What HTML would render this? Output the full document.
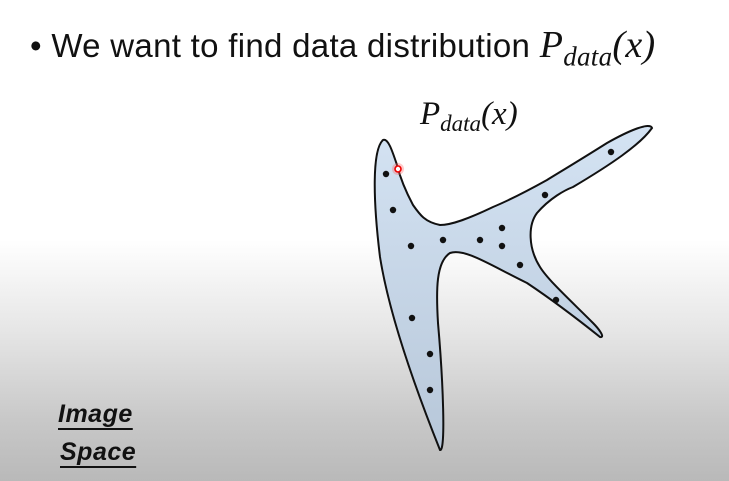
<!DOCTYPE html>
<html><head><meta charset="utf-8"><style>
body{margin:0;width:729px;height:481px;overflow:hidden;font-family:"Liberation Sans",sans-serif;
background:linear-gradient(to bottom,#fff 0,#fff 240px,#e6e6e6 330px,#c8c8c8 420px,#b9b9b9 481px);position:relative}
.t{position:absolute;left:30px;top:23px;font-size:33px;color:#111;white-space:nowrap;letter-spacing:0.3px}
.m{font-family:"Liberation Serif",serif;font-style:italic;font-size:38px}
.lab{position:absolute;font-weight:bold;font-style:italic;font-size:25px;color:#111;text-decoration:underline;text-decoration-thickness:2px;text-underline-offset:6px;letter-spacing:0.5px}
</style></head><body>
<div class="t">• We want to find data distribution <span class="m">P<sub style="font-size:27px">data</sub>(x)</span></div>
<svg width="729" height="481" style="position:absolute;left:0;top:0">
<defs><linearGradient id="g" x1="0" y1="0" x2="0" y2="1"><stop offset="0" stop-color="#d4e3f3"/><stop offset="1" stop-color="#b7c7d9"/></linearGradient></defs>
<text x="420" y="124" font-family="Liberation Serif,serif" font-style="italic" font-size="33" fill="#111">P<tspan font-size="23" dy="7">data</tspan><tspan dy="-7">(x)</tspan></text>
<path fill="url(#g)" stroke="#111" stroke-width="2"
d="M383,140 C372,150 373,200 380,257 C390,320 420,400 440,450 C446,452 443,380 438,323 C436,290 436,262 450,253 C465,248 490,265 527,283 C560,305 585,325 600,337 C606,338 598,328 593,323 C570,300 548,280 540,267 C528,248 528,225 537,213 C550,198 565,190 573,187 C610,165 640,145 652,128 C650,122 630,130 607,143 C580,160 560,172 547,180 C520,195 505,202 493,207 C470,218 452,225 440,225 C425,222 420,215 413,205 C405,190 400,177 397,165 C392,150 388,138 383,140 Z"/>
<g fill="#111">
<circle cx="386" cy="174" r="3.2"/><circle cx="393" cy="210" r="3.2"/><circle cx="411" cy="246" r="3.2"/>
<circle cx="443" cy="240" r="3.2"/><circle cx="480" cy="240" r="3.2"/><circle cx="502" cy="228" r="3.2"/>
<circle cx="502" cy="246" r="3.2"/><circle cx="520" cy="265" r="3.2"/><circle cx="545" cy="195" r="3.2"/>
<circle cx="611" cy="152" r="3.2"/><circle cx="556" cy="300" r="3.2"/><circle cx="412" cy="318" r="3.2"/>
<circle cx="430" cy="354" r="3.2"/><circle cx="430" cy="390" r="3.2"/>
</g>
<circle cx="398" cy="169" r="6" fill="#f66" opacity="0.35"/>
<circle cx="398" cy="169" r="3" fill="#fff" stroke="#e00" stroke-width="1.6"/>
</svg>
<div class="lab" style="left:58px;top:400px">Image</div>
<div class="lab" style="left:60px;top:438px">Space</div>
</body></html>
